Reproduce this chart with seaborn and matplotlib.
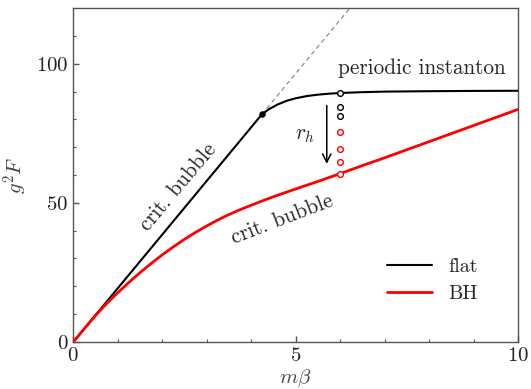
import matplotlib
matplotlib.use("Agg")
import matplotlib.pyplot as plt
import seaborn as sns
import pandas as pd
import numpy as np
from matplotlib.lines import Line2D

# ---- data ----
flat_x = [0, 4.24, 4.4, 4.6, 4.8, 5.0, 5.25, 5.5, 5.75, 6.0, 6.5, 7.0, 8.0, 9.0, 10.0]
flat_y = [0, 81.8, 83.7, 85.4, 86.7, 87.6, 88.4, 88.9, 89.25, 89.5, 89.8, 90.0, 90.15, 90.25, 90.3]

bh_x = [0, 0.25, 0.5, 0.75, 1.0, 1.25, 1.5, 1.75, 2.0, 2.25, 2.5, 2.75, 3.0, 3.25, 3.5, 3.75,
        4.0, 4.25, 4.5, 4.75, 5.0, 5.25, 5.5, 5.75, 6.0, 6.5, 7.0, 7.5, 8.0, 8.5, 9.0, 9.5, 10.0]
bh_y = [0, 4.8, 9.5, 13.8, 17.7, 21.4, 24.9, 28.2, 31.3, 34.2, 36.9, 39.4, 41.7, 43.85, 45.8, 47.55,
        49.15, 50.7, 52.2, 53.6, 55.0, 56.35, 57.7, 59.1, 60.5, 63.4, 66.2, 69.1, 72.0, 74.9, 77.8, 80.7, 83.6]

dash_x = [4.24, 6.4]
dash_y = [81.8, 123.5]

kink_x = [4.24]
kink_y = [81.8]

flat_pts_y = [89.5, 84.5, 81.3]
bh_pts_y = [75.3, 69.4, 64.7, 60.5]
pts_x = 6.0

legend_labels = ["flat", "BH"]

# ---- style ----
sns.set_style("ticks")
plt.rcParams["font.family"] = ["serif"]
plt.rcParams["font.serif"] = ["cmr10", "DejaVu Serif"]
plt.rcParams["mathtext.fontset"] = "cm"
plt.rcParams["axes.formatter.use_mathtext"] = True

fig = plt.figure(figsize=(5.31, 3.89), dpi=100)
ax = fig.add_axes([0.138, 0.121, 0.8375, 0.858])

df = pd.concat([
    pd.DataFrame({"x": flat_x, "y": flat_y, "case": "flat"}),
    pd.DataFrame({"x": bh_x, "y": bh_y, "case": "BH"}),
])
sns.lineplot(data=df, x="x", y="y", hue="case", palette={"flat": "black", "BH": "#ff0000"},
             estimator=None, sort=False, ax=ax, legend=False, zorder=3)
lines = ax.get_lines()
lines[0].set_linewidth(1.5)
lines[1].set_linewidth(2.0)

sns.lineplot(x=dash_x, y=dash_y, color="gray", linestyle=(0, (4, 3)), linewidth=0.8,
             ax=ax, estimator=None, sort=False, zorder=2)
sns.scatterplot(x=kink_x, y=kink_y, color="black", s=18, ax=ax, zorder=5, edgecolor="black")

ax.scatter([pts_x] * len(flat_pts_y), flat_pts_y, s=17, facecolors="white",
           edgecolors="black", linewidths=1.0, zorder=6)
ax.scatter([pts_x] * len(bh_pts_y), bh_pts_y, s=17, facecolors="white",
           edgecolors="#ff0000", linewidths=1.0, zorder=6)

ax.annotate("", xy=(5.7, 63.0), xytext=(5.7, 86.0),
            arrowprops=dict(arrowstyle="->", color="black", lw=1.1, mutation_scale=15))
ax.text(5.2, 74.3, r"$r_h$", fontsize=15.5, ha="center", va="center")

ax.text(7.83, 98.4, "periodic instanton", fontsize=15.3, ha="center", va="center")
ax.text(2.35, 55.5, "crit. bubble", fontsize=15.3, ha="center", va="center",
        rotation=50, rotation_mode="anchor")
ax.text(4.70, 43.9, "crit. bubble", fontsize=15.3, ha="center", va="center",
        rotation=21, rotation_mode="anchor")

# legend
handles = [Line2D([], [], color="black", lw=1.5), Line2D([], [], color="#ff0000", lw=2.0)]
ax.legend(handles, legend_labels, loc="upper left", frameon=False, fontsize=14.5,
          handlelength=2.25, handletextpad=0.8, labelspacing=0.45,
          borderpad=0, borderaxespad=0, bbox_to_anchor=(0.705, 0.252))

ax.set_xlim(0, 10)
ax.set_ylim(0, 120)
ax.set_xticks([0, 5, 10])
ax.set_yticks([0, 50, 100])
ax.set_xticks(np.arange(0, 11, 1), minor=True)
ax.set_yticks(np.arange(0, 121, 10), minor=True)
ax.tick_params(which="both", direction="in", top=False, right=False, colors="#555555",
               labelcolor="#222222", labelsize=15)
ax.tick_params(which="major", length=4, width=1.0)
ax.tick_params(which="minor", length=2.5, width=0.8)
for s in ax.spines.values():
    s.set_color("#555555")
    s.set_linewidth(1.0)
ax.set_xlabel(r"$m\beta$", fontsize=15, color="#444444", labelpad=2)
ax.set_ylabel(r"$g^2F$", fontsize=15, color="#444444")
ax.yaxis.set_label_coords(-0.098, 0.5)

fig.savefig("out.png", dpi=100)
